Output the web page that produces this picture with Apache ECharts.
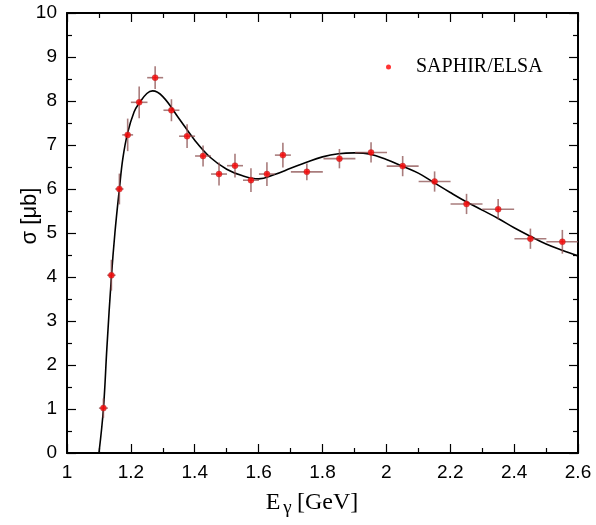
<!DOCTYPE html>
<html>
<head>
<meta charset="utf-8">
<script src="https://cdn.jsdelivr.net/npm/echarts@6/dist/echarts.min.js"></script>
<style>
html,body{margin:0;padding:0;background:#fff;}
#chart{width:596px;height:525px;}
</style>
</head>
<body>
<div id="chart"></div>
<script>
// Data: SAPHIR/ELSA points
const energies = [1.114, 1.139, 1.164, 1.190, 1.226, 1.276, 1.327, 1.376, 1.426, 1.476, 1.526, 1.576, 1.626, 1.676, 1.751, 1.853, 1.952, 2.051, 2.151, 2.251, 2.350, 2.451, 2.551];
const sigma    = [1.02, 4.04, 6.00, 7.23, 7.97, 8.53, 7.79, 7.20, 6.75, 6.34, 6.53, 6.20, 6.34, 6.77, 6.39, 6.69, 6.83, 6.52, 6.17, 5.66, 5.54, 4.87, 4.80];
const energyErr = [0.014, 0.013, 0.013, 0.017, 0.026, 0.025, 0.025, 0.025, 0.025, 0.025, 0.025, 0.025, 0.025, 0.025, 0.05, 0.05, 0.05, 0.05, 0.05, 0.05, 0.05, 0.05, 0.05];
const sigmaErr  = [0.22, 0.35, 0.35, 0.37, 0.36, 0.26, 0.25, 0.27, 0.24, 0.26, 0.27, 0.27, 0.27, 0.28, 0.19, 0.22, 0.23, 0.23, 0.23, 0.23, 0.23, 0.23, 0.27];

// Fit curve samples
const curveX = [1.100, 1.114, 1.125, 1.139, 1.150, 1.164, 1.175, 1.190, 1.210, 1.226, 1.250, 1.268, 1.300, 1.350, 1.400, 1.450, 1.500, 1.550, 1.600, 1.650, 1.700, 1.750, 1.800, 1.850, 1.900, 1.950, 2.000, 2.050, 2.100, 2.150, 2.200, 2.250, 2.300, 2.350, 2.400, 2.450, 2.500, 2.550, 2.600];
const curveY = [0.00, 1.00, 2.40, 4.00, 5.00, 6.00, 6.70, 7.28, 7.75, 7.95, 8.17, 8.23, 8.10, 7.61, 7.11, 6.71, 6.45, 6.30, 6.23, 6.33, 6.47, 6.61, 6.73, 6.80, 6.82, 6.79, 6.67, 6.52, 6.36, 6.14, 5.92, 5.71, 5.52, 5.33, 5.12, 4.93, 4.75, 4.61, 4.48];

const xTicks = [1, 1.2, 1.4, 1.6, 1.8, 2, 2.2, 2.4, 2.6];
const yTicks = [0, 1, 2, 3, 4, 5, 6, 7, 8, 9, 10];
const seriesName = 'SAPHIR/ELSA';

const chart = echarts.init(document.getElementById('chart'));

const errData = energies.map((e, i) => [e, sigma[i], energyErr[i], sigmaErr[i]]);
const ptData = energies.map((e, i) => [e, sigma[i]]);
const lineData = curveX.map((x, i) => [x, curveY[i]]);

const sansFont = '"Liberation Sans", Arial, Helvetica, sans-serif';
const serifFont = '"Liberation Serif", "Times New Roman", serif';

function axisCommon(showLabels) {
  return {
    axisLine: {show: true, onZero: false, lineStyle: {color: '#000', width: 2}},
    axisTick: {show: true, inside: true, length: 9, lineStyle: {color: '#000', width: 1.2}},
    minorTick: {show: true, splitNumber: 2, length: 5, lineStyle: {color: '#000', width: 1.2}},
    splitLine: {show: false},
    axisLabel: {show: showLabels, color: '#000', fontSize: 19, fontFamily: sansFont, margin: 8}
  };
}

const option = {
  animation: false,
  backgroundColor: '#fff',
  grid: {left: 67, right: 18, top: 13, bottom: 72, containLabel: false},
  xAxis: [
    Object.assign({type: 'value', min: 1, max: 2.6, interval: 0.2, position: 'bottom'}, axisCommon(true), {
      axisLabel: {show: true, color: '#000', fontSize: 19, fontFamily: sansFont, margin: 10,
        formatter: v => { const t = xTicks.find(k => Math.abs(k - v) < 1e-6); return t === undefined ? '' : String(t); }}
    }),
    Object.assign({type: 'value', min: 1, max: 2.6, interval: 0.2, position: 'top'}, axisCommon(false))
  ],
  yAxis: [
    Object.assign({type: 'value', min: 0, max: 10, interval: 1, position: 'left'}, axisCommon(true), {
      axisLabel: {show: true, color: '#000', fontSize: 19, fontFamily: sansFont, margin: 10,
        formatter: v => { const t = yTicks.find(k => Math.abs(k - v) < 1e-6); return t === undefined ? '' : String(t); }}
    }),
    Object.assign({type: 'value', min: 0, max: 10, interval: 1, position: 'right'}, axisCommon(false))
  ],
  series: [
    {
      type: 'line',
      data: lineData,
      smooth: 0.4,
      showSymbol: false,
      clip: true,
      lineStyle: {color: '#000', width: 1.6},
      z: 3
    },
    {
      type: 'custom',
      data: errData,
      clip: true,
      renderItem: function (params, api) {
        const x = api.value(0), y = api.value(1), ex = api.value(2), ey = api.value(3);
        const l = api.coord([x - ex, y]);
        const r = api.coord([x + ex, y]);
        const t = api.coord([x, y + ey]);
        const b = api.coord([x, y - ey]);
        const style = {stroke: 'rgba(140,80,80,0.75)', lineWidth: 1.6};
        return {
          type: 'group',
          children: [
            {type: 'line', shape: {x1: l[0], y1: l[1], x2: r[0], y2: r[1]}, style: style},
            {type: 'line', shape: {x1: t[0], y1: t[1], x2: b[0], y2: b[1]}, style: style}
          ]
        };
      },
      z: 4
    },
    {
      name: seriesName,
      type: 'scatter',
      data: ptData,
      symbol: 'circle',
      symbolSize: 6,
      itemStyle: {color: '#ff0000', borderColor: '#b03030', borderWidth: 0.6},
      z: 5
    }
  ],
  legend: {
    show: true,
    data: [{name: seriesName, icon: 'circle', itemStyle: {color: '#ff0000', borderWidth: 0}}],
    left: 381,
    top: 52,
    itemWidth: 5,
    itemHeight: 5,
    itemGap: 10,
    textStyle: {color: '#000', fontSize: 20, fontFamily: serifFont, padding: [0, 0, 0, 20]},
    selectedMode: false
  },
  graphic: [
    {
      type: 'text',
      x: 30,
      y: 216,
      rotation: Math.PI / 2,
      style: {text: 'σ [μb]', font: '22px ' + sansFont, fill: '#000', align: 'center', verticalAlign: 'middle'}
    },
    {
      type: 'text',
      x: 312,
      y: 503,
      style: {
        text: '{e|E}{g|γ} {e|[GeV]}',
        align: 'center',
        verticalAlign: 'middle',
        rich: {
          e: {font: '24px ' + serifFont, fill: '#000'},
          g: {font: '19px ' + serifFont, fill: '#000', padding: [10, 2, 0, 3]}
        }
      }
    }
  ]
};
chart.setOption(option);
</script>
</body>
</html>
